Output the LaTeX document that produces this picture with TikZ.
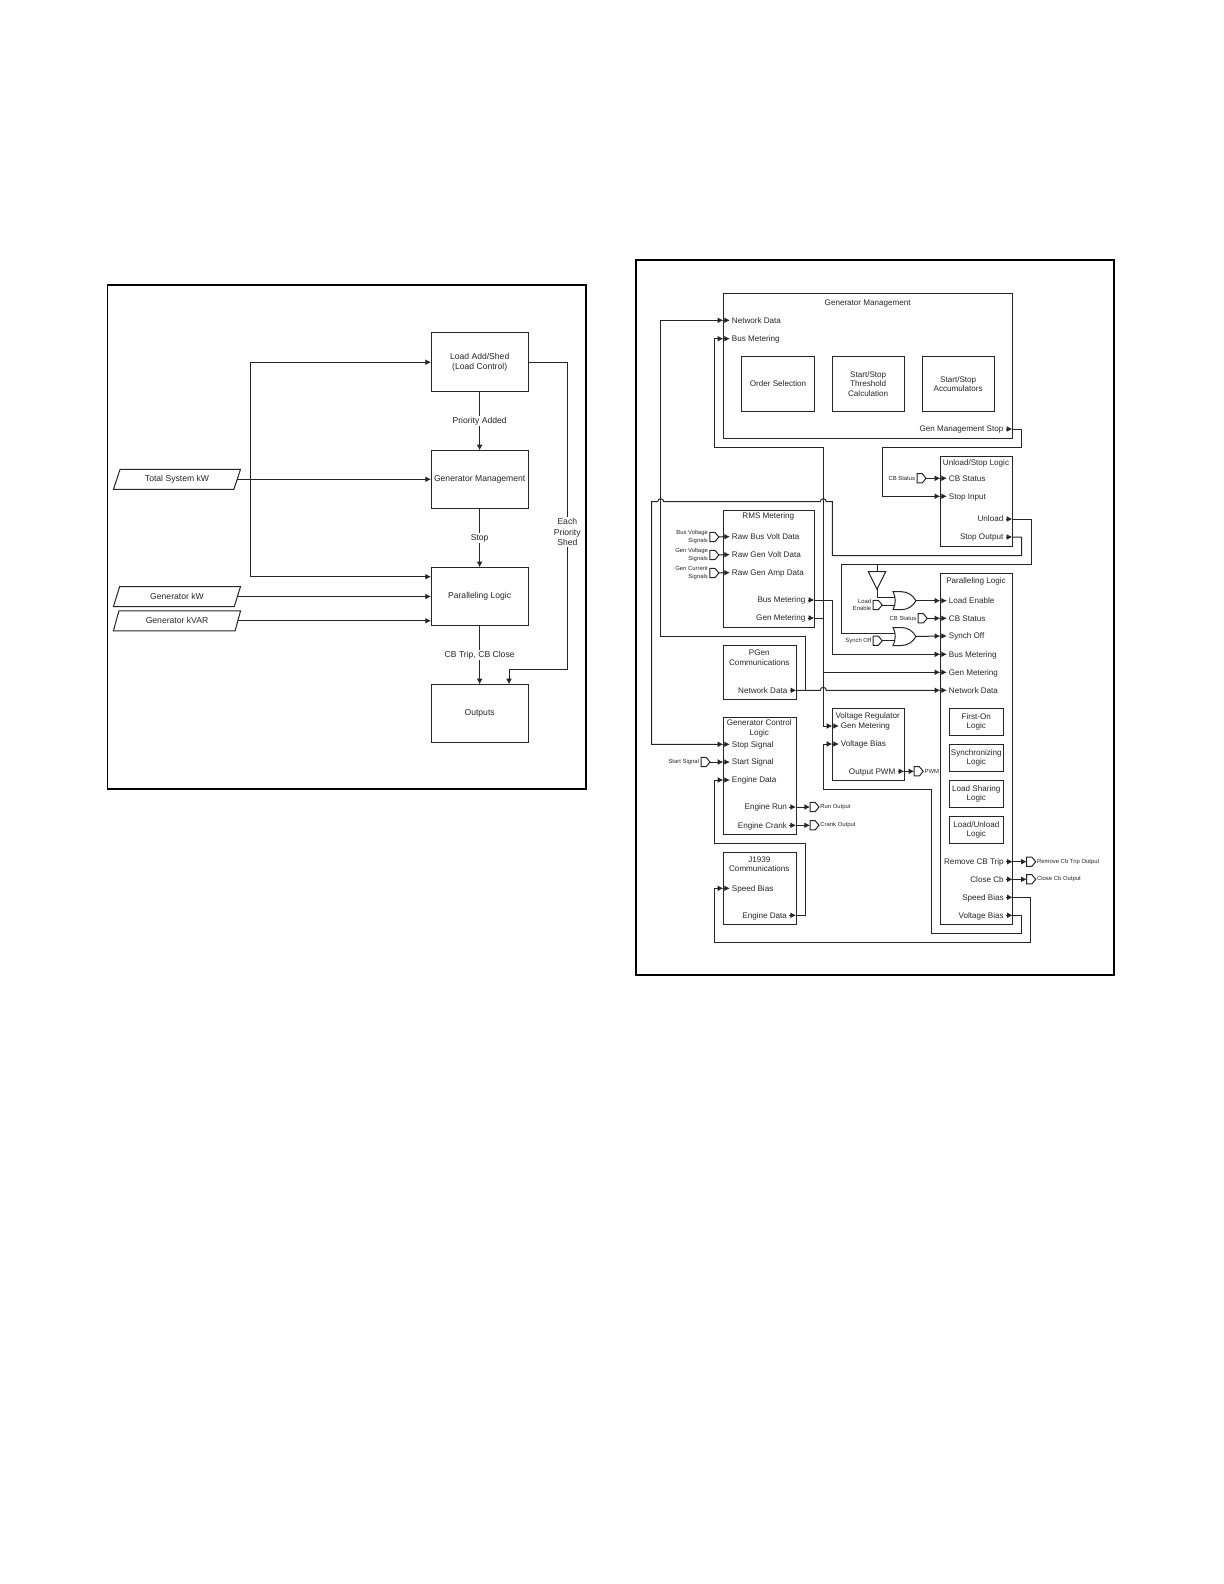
\documentclass[tikz,border=0pt]{standalone}
\usepackage{fontspec}
\setmainfont{Liberation Sans}
\usetikzlibrary{arrows.meta,shapes.geometric,shapes.symbols,shapes.gates.logic.US}

\newcommand{\bigfont}{\fontsize{4.3}{5.3}\selectfont}
\newcommand{\midfont}{\fontsize{4.05}{4.7}\selectfont}
\newcommand{\tinyfont}{\fontsize{2.95}{3.65}\selectfont}

\tikzset{
    line/.style={line width=.5pt,black!85},
    wire/.style={line,-{Latex[length=2.8pt,width=2.9pt]}},
    frame/.style={draw=black,line width=.9pt},
    blkbox/.style={draw=black!85,line width=.5pt,inner sep=0pt,outer sep=0pt,align=center,text=black!85,font=\midfont},
    lbl/.style={inner sep=0pt,outer sep=0pt,align=center,text=black!85,font=\midfont},
    portlbl/.style={lbl,text height=2.9pt,text depth=0pt},
    tinylbl/.style={inner sep=0pt,outer sep=0pt,text=black!85,font=\tinyfont},
    inbox/.style={trapezium,trapezium stretches=true,trapezium left angle=65,trapezium right angle=115,
        draw=black!85,line width=.5pt,inner sep=0pt,outer sep=0pt,minimum width=63.7pt,minimum height=10pt,text=black!85,font=\bigfont},
    tagin/.style={signal,signal to=east,signal pointer angle=100,draw=black!85,line width=.5pt,
        inner sep=0pt,outer sep=0pt,minimum width=4.5pt,minimum height=4.6pt},
    orgate/.style={or gate US,logic gate inputs=nn,draw=black!85,line width=.5pt,
        inner sep=0pt,outer sep=0pt,transform shape,xscale=.56,yscale=.6},
    invtri/.style={isosceles triangle,isosceles triangle stretches=true,shape border rotate=-90,anchor=apex,
        draw=black!85,line width=.5pt,inner sep=0pt,outer sep=0pt,minimum width=8.7pt,minimum height=8.8pt},
}

% Caja dada por sus dos esquinas, en pixeles de la pagina.
\newcommand{\blk}[6]{\node[blkbox,minimum width={(#4-#2)*0.5pt},minimum height={(#5-#3)*0.5pt}] (#1) at ({(#2+#4)/2},{(#3+#5)/2}) {#6};}
% Puertos de entrada y de salida sobre el borde de una caja.
\newcommand{\ptin}[4]{\coordinate (#1e) at (#2.west |- 0,#3);
    \node[portlbl,anchor=west] (#1) at ([xshift=4.3pt]#1e) {#4};
    \draw[wire] (#1e) -- ([xshift=3.3pt]#1e);}
\newcommand{\ptout}[4]{\coordinate (#1e) at (#2.east |- 0,#3);
    \node[portlbl,anchor=east] (#1) at ([xshift=-4.5pt]#1e) {#4};
    \draw[wire] ([xshift=-3.4pt]#1e) -- (#1e);}
% Etiquetas pequenas con su compuerta.
\newcommand{\gatein}[4]{\node[tagin] (#1) at ([xshift=-.6pt]#2,#3) {};
    \node[tinylbl,anchor=east,align=right] (#1l) at ([xshift=-1pt]#1.west) {#4};}
\newcommand{\gateout}[4]{\node[tagin] (#1) at ([xshift=-.6pt]#2,#3) {};
    \node[tinylbl,anchor=west] (#1l) at ([xshift=.7pt]#1.east) {#4};}

\begin{document}
\begin{tikzpicture}[x=0.5pt,y=-0.5pt]
    \useasboundingbox (0,0) rectangle (1224,1584);

    % Cuadro izquierdo: vista general.
    \node[frame,inner sep=0pt,outer sep=0pt,minimum width=239.25pt,minimum height=252pt] (leftframe) at (346.75,537) {};
    \begin{scope}[blkbox/.append style={font=\bigfont},lbl/.append style={font=\bigfont}]
        \blk{loadadd}{431}{332.7}{528.3}{391.7}{Load Add/Shed\\(Load Control)}
        \blk{genmgmt}{431}{450.3}{528.3}{508.7}{Generator Management}
        \blk{parlog}{431}{567.3}{528.3}{625.3}{Paralleling Logic}
        \blk{outputs}{431}{684.3}{528.3}{742.7}{Outputs}
        \node[inbox] (totkw) at (177,479.3) {Total System kW};
        \node[inbox] (genkw) at (177,596.5) {Generator kW};
        \node[inbox] (genkvar) at (177,620.8) {Generator kVAR};
        \draw[wire] (loadadd) -- node[lbl,fill=white,inner sep=.6pt] (prilbl) {Priority Added} (genmgmt);
        \draw[wire] (genmgmt) -- node[lbl,fill=white,inner sep=.6pt] (stoplbl) {Stop} (parlog);
        \draw[wire] (parlog) -- node[lbl,fill=white,inner sep=.6pt] (cblbl) {CB Trip, CB Close} (outputs);
        \coordinate (buslj) at (250.7,479.3);
        \coordinate (parin) at (431,576.7);
        \coordinate (outin) at (509,684.3);
        \draw[wire] (totkw.east) -- (genmgmt.west |- totkw.east);
        \draw[wire] (buslj) |- (loadadd.west);
        \draw[wire] (buslj) |- (parin);
        \draw[wire] (genkw.east) -- (parlog.west |- genkw.east);
        \draw[wire] (genkvar.east) -- (parlog.west |- genkvar.east);
        \draw[wire] (loadadd.east) -| (567.3,669.7) -| (outin);
        \node[lbl,fill=white,inner sep=.6pt] (shedlbl) at (567.3,532) {Each\\Priority\\Shed};
    \end{scope}

    % Cuadro derecho: detalle de la logica.
    \node[frame,inner sep=0pt,outer sep=0pt,minimum width=239pt,minimum height=357.5pt] (rightframe) at (874.75,617.25) {};

    % Generator Management.
    \blk{rgm}{723.3}{293.3}{1012.3}{438.3}{}
    \node[lbl] (rgmt) at (867.7,303.5) {Generator Management};
    \ptin{gmnet}{rgm}{320.3}{Network Data}
    \ptin{gmbus}{rgm}{338.7}{Bus Metering}
    \blk{ordsel}{741.7}{356.7}{814.3}{411}{Order Selection}
    \blk{thresh}{832}{356.7}{904.3}{411}{Start/Stop\\Threshold\\Calculation}
    \blk{accum}{922}{356.7}{994.3}{411}{Start/Stop\\Accumulators}
    \ptout{gmstop}{rgm}{429}{Gen Management Stop}

    % Unload/Stop Logic.
    \blk{ubox}{940.3}{456.7}{1012.3}{546.3}{}
    \node[lbl] (uboxt) at (976,463) {Unload/Stop Logic};
    \ptin{ucb}{ubox}{478.3}{CB Status}
    \ptin{ustop}{ubox}{496.3}{Stop Input}
    \ptout{uunl}{ubox}{519}{Unload}
    \ptout{ustopo}{ubox}{537}{Stop Output}
    \gatein{ucbg}{920.85}{478.3}{CB Status}
    \draw[wire] (ucbg.east) -- (ucbe);
    \draw[wire] (gmstope) -| (1021.7,447.3) -| (882.7,496.3) -- (ustope);

    % RMS Metering.
    \blk{rms}{723.3}{510.3}{814.3}{627}{}
    \node[lbl] (rmst) at (768.3,516) {RMS Metering};
    \ptin{rawb}{rms}{536.7}{Raw Bus Volt Data}
    \ptin{rawv}{rms}{554.7}{Raw Gen Volt Data}
    \ptin{rawa}{rms}{572.7}{Raw Gen Amp Data}
    \ptout{rmbus}{rms}{600}{Bus Metering}
    \ptout{rmgen}{rms}{618}{Gen Metering}
    \gatein{rawbg}{713.6}{537}{Bus Voltage\\Signals}
    \gatein{rawvg}{713.6}{555}{Gen Voltage\\Signals}
    \gatein{rawag}{713.6}{573}{Gen Current\\Signals}
    \draw[line] (rawbg.east) -- (rawbe);
    \draw[line] (rawvg.east) -- (rawve);
    \draw[line] (rawag.east) -- (rawae);

    % PGen Communications.
    \blk{pgen}{723.3}{645}{796.3}{699.3}{}
    \node[lbl] (pgent) at (759.3,657.8) {PGen\\Communications};
    \ptout{pgnet}{pgen}{690.3}{Network Data}

    % Paralleling Logic.
    \blk{pl}{940.3}{573.7}{1012.7}{924.3}{}
    \node[lbl] (plt) at (976,581.3) {Paralleling Logic};
    \ptin{plload}{pl}{600.7}{Load Enable}
    \ptin{plcb}{pl}{618.3}{CB Status}
    \ptin{plsyn}{pl}{636}{Synch Off}
    \ptin{plbus}{pl}{654.3}{Bus Metering}
    \ptin{plgen}{pl}{672.3}{Gen Metering}
    \ptin{plnet}{pl}{690.3}{Network Data}
    \blk{firston}{949.3}{708.7}{1003.3}{735.3}{First-On\\Logic}
    \blk{synclog}{949.3}{744.3}{1003.3}{771.3}{Synchronizing\\Logic}
    \blk{loadshr}{949.3}{780.3}{1003.3}{807.3}{Load Sharing\\Logic}
    \blk{loadunl}{949.3}{816.3}{1003.3}{843.3}{Load/Unload\\Logic}
    \ptout{plrem}{pl}{861.7}{Remove CB Trip}
    \ptout{plcls}{pl}{879.3}{Close Cb}
    \ptout{plspd}{pl}{897.3}{Speed Bias}
    \ptout{plvol}{pl}{915.3}{Voltage Bias}
    \gateout{remg}{1030.5}{861.7}{Remove Cb Trip Output}
    \gateout{clsg}{1030.5}{879.3}{Close Cb Output}
    \draw[wire] (plreme) -- (remg.west);
    \draw[wire] (plclse) -- (clsg.west);

    % Compuertas frente a Paralleling Logic.
    \node[orgate] (or1) at (902.8,600.7) {};
    \node[orgate] (or2) at (902.8,636.5) {};
    \node[invtri] (inv) at (877,589.3) {};
    \coordinate (unljoin) at (877,564.3);
    \coordinate (invtop) at (877,571.7);
    \gatein{leng}{877}{605}{Load\\Enable}
    \gatein{syng}{877}{640.7}{Synch Off}
    \gatein{plcbg}{922}{618.3}{CB Status}
    \draw[line] (unljoin) -- (invtop);
    \draw[line] (inv.apex) |- (or1.input 1);
    \draw[line] (leng.east) -- (or1.input 2 |- leng.east);
    \draw[line] (syng.east) -- (or2.input 2 |- syng.east);
    \draw[wire] (or1.output) -- (plloade);
    \draw[wire] (or2.output) -- (plsyne);
    \draw[wire] (plcbg.east) -- (plcbe);
    \draw[line] (uunle) -| (1031,564.3) -| (841.3,600) |- (or2.input 1);

    % Voltage Regulator.
    \blk{vr}{832.3}{708.3}{904.3}{780.3}{}
    \node[lbl] (vrt) at (867.7,716) {Voltage Regulator};
    \ptin{vrgen}{vr}{726}{Gen Metering}
    \ptin{vrvol}{vr}{744}{Voltage Bias}
    \ptout{vrpwm}{vr}{771.3}{Output PWM}
    \gateout{pwmg}{918}{771.3}{PWM}
    \draw[wire] (vrpwme) -- (pwmg.west);

    % Generator Control Logic.
    \blk{gc}{723.3}{717.3}{796}{834.3}{}
    \node[lbl] (gct) at (759.3,728.3) {Generator Control\\Logic};
    \ptin{gcstp}{gc}{744.3}{Stop Signal}
    \ptin{gcsta}{gc}{762}{Start Signal}
    \ptin{gceng}{gc}{780}{Engine Data}
    \ptout{gcrun}{gc}{807}{Engine Run}
    \ptout{gccrk}{gc}{825.3}{Engine Crank}
    \gatein{stag}{704.8}{762}{Start Signal}
    \gateout{rung}{813.8}{807}{Run Output}
    \gateout{crkg}{813.8}{825.3}{Crank Output}
    \draw[wire] (stag.east) -- (gcstae);
    \draw[wire] (gcrune) -- (rung.west);
    \draw[wire] (gccrke) -- (crkg.west);

    % J1939 Communications.
    \blk{jcom}{723.3}{852.3}{796}{924.3}{}
    \node[lbl] (jcomt) at (759.3,864.5) {J1939\\Communications};
    \ptin{jspd}{jcom}{888.3}{Speed Bias}
    \ptout{jeng}{jcom}{915.3}{Engine Data}

    % Conexiones largas entre bloques.
    \coordinate (gjoin) at (823.3,618);
    \coordinate (gjoinb) at (823.3,672.3);
    \coordinate (njoin) at (805.3,690.3);
    \draw[line] (rmgene) -- (gjoin);
    \draw[wire] (gjoin) |- (714.3,447.3) |- (gmbuse);
    \draw[wire] (gjoin) |- (vrgene);
    \draw[wire] (gjoinb) -- (plgene);
    \draw[wire] (rmbuse) -| (832.3,654.3) -- (plbuse);
    \draw[wire] (njoin) |- (660.7,636) |- (gmnete);
    \draw[wire] (pgnete) -- (820.3,690.3) arc[start angle=180,end angle=0,radius=1.5pt] -- (plnete);
    \draw[wire] (ustopoe) -| (1021.7,555.7) -| (832.3,501.7) -- (826.3,501.7)
        arc[start angle=0,end angle=180,radius=1.5pt] -- (663.7,501.7)
        arc[start angle=0,end angle=180,radius=1.5pt] -- (651.7,501.7) |- (gcstpe);
    \draw[wire] (plspde) -| (1030.3,942.3) -| (714,888.3) -- (jspde);
    \draw[wire] (plvole) -| (1021.3,933.3) -| (931.3,789.7) -| (823.3,744) -- (vrvole);
    \draw[wire] (jenge) -| (805.3,843.7) -| (714.3,780) -- (gcenge);
\end{tikzpicture}
\end{document}
